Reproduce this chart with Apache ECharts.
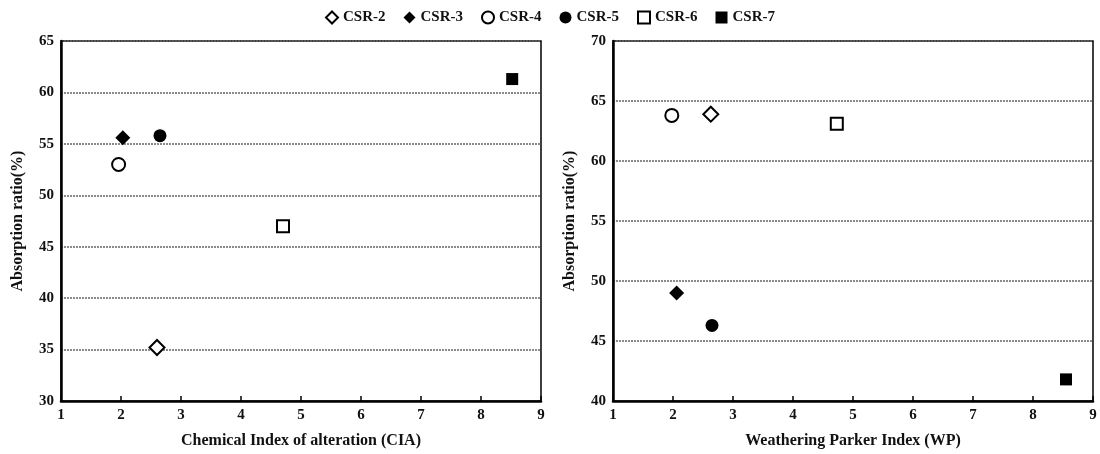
<!DOCTYPE html>
<html>
<head>
<meta charset="utf-8">
<script src="https://cdn.jsdelivr.net/npm/echarts@6/dist/echarts.min.js"></script>
<style>
  html, body { margin: 0; padding: 0; background: #fff; }
  #main { width: 1100px; height: 454px; }
</style>
</head>
<body>
<div id="main"></div>
<script>
// sample names, same order in both panels
var samples = ['CSR-2', 'CSR-3', 'CSR-4', 'CSR-5', 'CSR-6', 'CSR-7'];
// left panel: CIA vs absorption ratio
var ciaX = [2.6, 2.03, 1.96, 2.65, 4.7, 8.52];
var ciaY = [35.2, 55.6, 53.0, 55.8, 47.0, 61.3];
// right panel: WP vs absorption ratio
var wpX = [2.63, 2.06, 1.98, 2.65, 4.73, 8.55];
var wpY = [63.9, 49.0, 63.8, 46.3, 63.1, 41.8];

var symbols = ['diamond', 'diamond', 'circle', 'circle', 'rect', 'rect'];
var hollow = [true, false, true, false, true, false];
var sizes = [15, 15, 13, 13, 12, 12];

var font = '"Liberation Serif", "DejaVu Serif", serif';

function xAxisFor(idx, name) {
  return {
    gridIndex: idx, type: 'value', min: 1, max: 9, interval: 1,
    name: name, nameLocation: 'middle', nameGap: 32,
    nameTextStyle: { fontFamily: font, fontWeight: 'bold', fontSize: 16, color: '#111' },
    axisLine: { lineStyle: { color: '#000', width: 2.5 } },
    axisTick: { inside: true, length: 5, lineStyle: { color: '#000', width: 1.5 } },
    axisLabel: { fontFamily: font, fontWeight: 'bold', fontSize: 15, color: '#111', margin: 7 },
    splitLine: { show: false }
  };
}

function yAxisFor(idx, min, max) {
  return {
    gridIndex: idx, type: 'value', min: min, max: max, interval: 5,
    name: 'Absorption ratio(%)', nameLocation: 'middle', nameGap: 35,
    nameTextStyle: { fontFamily: font, fontWeight: 'bold', fontSize: 16, color: '#111' },
    axisLine: { lineStyle: { color: '#000', width: 2.5 } },
    axisTick: { show: false },
    axisLabel: { fontFamily: font, fontWeight: 'bold', fontSize: 15, color: '#111', margin: 7 },
    splitLine: { lineStyle: { color: '#666', width: 1.5, type: [2, 1] } }
  };
}

var series = [];
samples.forEach(function (s, i) {
  var style = hollow[i]
    ? { color: '#fff', borderColor: '#000', borderWidth: 2, opacity: 1 }
    : { color: '#000', borderColor: '#000', borderWidth: 0, opacity: 1 };
  series.push({
    name: s, type: 'scatter', xAxisIndex: 0, yAxisIndex: 0,
    symbol: symbols[i], symbolSize: sizes[i], itemStyle: style,
    data: [[ciaX[i], ciaY[i]]]
  });
  series.push({
    name: s, type: 'scatter', xAxisIndex: 1, yAxisIndex: 1,
    symbol: symbols[i], symbolSize: sizes[i], itemStyle: style,
    data: [[wpX[i], wpY[i]]]
  });
});

var chart = echarts.init(document.getElementById('main'), null, { renderer: 'canvas' });
chart.setOption({
  animation: false,
  backgroundColor: '#fff',
  legend: {
    top: 5, left: 'center',
    data: samples,
    itemWidth: 12, itemHeight: 12, itemGap: 18,
    textStyle: { fontFamily: font, fontWeight: 'bold', fontSize: 15, color: '#111' }
  },
  grid: [
    { left: 61, right: 559, top: 41, bottom: 52, show: true, borderColor: '#000', borderWidth: 1.5 },
    { left: 613, right: 7, top: 41, bottom: 52, show: true, borderColor: '#000', borderWidth: 1.5 }
  ],
  xAxis: [
    xAxisFor(0, 'Chemical Index of alteration (CIA)'),
    xAxisFor(1, 'Weathering Parker Index (WP)')
  ],
  yAxis: [
    yAxisFor(0, 30, 65),
    yAxisFor(1, 40, 70)
  ],
  series: series
});
</script>
</body>
</html>
